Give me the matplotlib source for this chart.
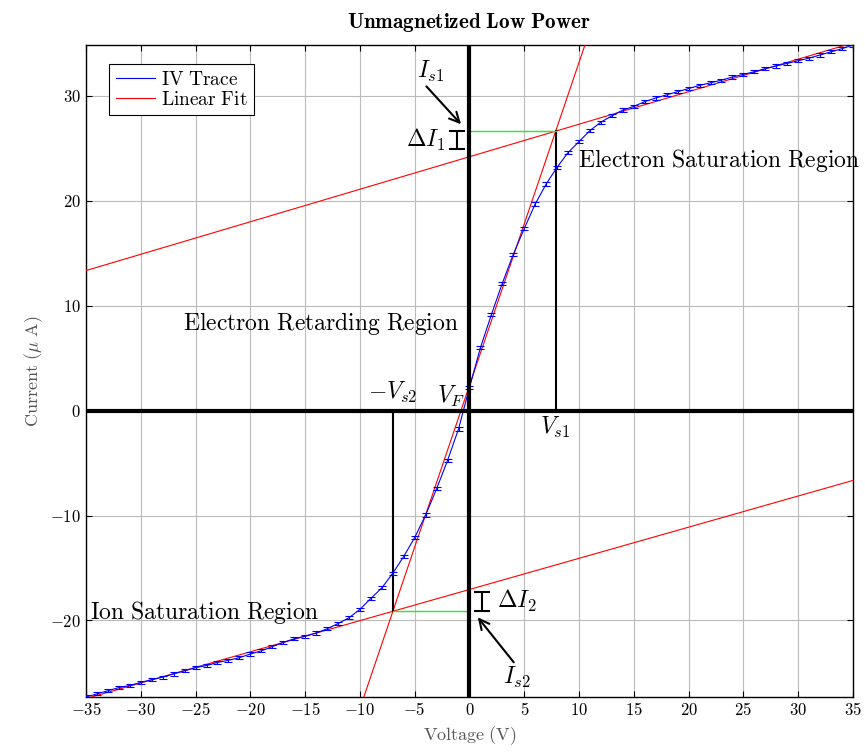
import numpy as np
import matplotlib
matplotlib.use('Agg')
import matplotlib.pyplot as plt
from matplotlib.lines import Line2D

plt.rcParams['mathtext.fontset'] = 'cm'
plt.rcParams['font.family'] = 'serif'

# measured IV trace
voltage = list(range(-35, 36))
current = [-27.3, -27.0, -26.7, -26.4, -26.2, -25.9, -25.65, -25.4, -25.1, -24.8,
           -24.5, -24.3, -24.0, -23.8, -23.55, -23.2, -22.9, -22.5, -22.1, -21.75,
           -21.5, -21.2, -20.8, -20.3, -19.75, -18.95, -17.9, -16.9, -15.5, -13.9,
           -12.1, -9.95, -7.45, -4.75, -1.75, 2.2, 6.0, 9.15, 12.15, 14.9,
           17.35, 19.7, 21.6, 23.2, 24.6, 25.65, 26.7, 27.5, 28.1, 28.65,
           29.0, 29.45, 29.8, 30.1, 30.4, 30.7, 31.0, 31.25, 31.5, 31.8,
           32.05, 32.3, 32.6, 32.85, 33.1, 33.35, 33.6, 33.9, 34.2, 34.5, 34.85]
current_err = 0.15

# linear fits (slope, intercept)
fit_esat = (0.31, 24.2)
fit_retard = (3.08, 2.4)
fit_isat = (0.297, -17.05)

xticks = [-35, -30, -25, -20, -15, -10, -5, 0, 5, 10, 15, 20, 25, 30, 35]
yticks = [-20, -10, 0, 10, 20, 30]

def cross(a, b):
    x = (b[1] - a[1]) / (a[0] - b[0])
    return x, a[0] * x + a[1]

vs1, is1 = cross(fit_esat, fit_retard)
vs2, is2 = cross(fit_isat, fit_retard)

fig = plt.figure(figsize=(8.65, 7.55), dpi=100)
ax = fig.add_axes([0.0994, 0.0768, 0.8867, 0.8636])

xmin, xmax = voltage[0], voltage[-1]
ymin, ymax = current[0], current[-1]

# thick zero axes
ax.axhline(0, color='black', lw=3, zorder=4.5)
ax.axvline(0, color='black', lw=3, zorder=4.5)

# fit lines
xs = np.array([xmin, xmax])
for f in [fit_esat, fit_retard, fit_isat]:
    ax.plot(xs, f[0] * xs + f[1], color='red', lw=0.8, zorder=3)

# trace
ax.errorbar(voltage, current, yerr=current_err, color='blue', lw=0.8,
            elinewidth=0.8, capsize=3, capthick=0.8, zorder=4)

# construction lines
ax.plot([vs1, vs1], [0, is1], color='black', lw=1.5, zorder=3)
ax.plot([vs2, vs2], [0, is2], color='black', lw=1.5, zorder=3)
ax.plot([0, vs1], [is1, is1], color='#22ee22', lw=1.0, zorder=3)
ax.plot([0, vs2], [is2, is2], color='#22ee22', lw=1.0, zorder=3)

# delta I bars
ax.errorbar([-1.15], [(24.9 + is1) / 2], yerr=[(is1 - 24.9) / 2], color='black',
            lw=1.5, capsize=6, capthick=1.5, zorder=5)
ax.errorbar([1.1], [(-17.3 + is2) / 2], yerr=[(-17.3 - is2) / 2], color='black',
            lw=1.5, capsize=6, capthick=1.5, zorder=5)

fs = 17
ax.text(-2.2, 25.8, '$\\Delta I_1$', fontsize=fs, ha='right', va='center')
ax.text(2.5, -18.1, '$\\Delta I_2$', fontsize=fs, ha='left', va='center')
ax.text(-3.6, 32.3, '$I_{s1}$', fontsize=fs, ha='center', va='center')
ax.text(4.3, -25.4, '$I_{s2}$', fontsize=fs, ha='center', va='center')
ax.text(-7.0, 1.7, '$-V_{s2}$', fontsize=fs, ha='center', va='center')
ax.text(-1.7, 1.3, '$V_F$', fontsize=fs, ha='center', va='center')
ax.text(vs1, -1.6, '$V_{s1}$', fontsize=fs, ha='center', va='center')
ax.annotate('', xy=(-0.6, 27.1), xytext=(-4.1, 31.1),
            arrowprops=dict(arrowstyle='->', lw=1.5, color='black', mutation_scale=18))
ax.annotate('', xy=(0.6, -19.5), xytext=(4.2, -24.2),
            arrowprops=dict(arrowstyle='->', lw=1.5, color='black', mutation_scale=18))

ax.text(-1.0, 8.3, '$\\mathrm{Electron\\ Retarding\\ Region}$', fontsize=fs,
        ha='right', va='center')
ax.text(9.9, 23.8, '$\\mathrm{Electron\\ Saturation\\ Region}$', fontsize=fs,
        ha='left', va='center')
ax.text(-34.6, -19.2, '$\\mathrm{Ion\\ Saturation\\ Region}$', fontsize=fs,
        ha='left', va='center')

ax.set_xlim(xmin, xmax)
ax.set_ylim(ymin, ymax)
ax.set_xticks(xticks, labels=[f'${t}$' for t in xticks])
ax.set_yticks(yticks, labels=[f'${t}$' for t in yticks])
ax.tick_params(direction='in', top=True, right=True, labelsize=12, length=4)
ax.grid(True, color='#bbbbbb', lw=0.8)
ax.set_axisbelow(True)
for s in ax.spines.values():
    s.set_linewidth(1.0)

ax.set_xlabel('$\\mathrm{Voltage\\ (V)}$', fontsize=13, color='#555555')
ax.set_ylabel('$\\mathrm{Current\\ (}\\mu\\mathrm{\\ A)}$', fontsize=13, color='#555555')
ax.set_title('$\\mathbf{Unmagnetized\\ Low\\ Power}$', fontsize=15.2, pad=12)

handles = [Line2D([], [], color='blue', lw=0.8), Line2D([], [], color='red', lw=0.8)]
leg = ax.legend(handles, ['$\\mathrm{IV\\ Trace}$', '$\\mathrm{Linear\\ Fit}$'],
                loc='upper left', bbox_to_anchor=(0.03, 0.971), fontsize=14,
                fancybox=False, framealpha=1, edgecolor='black', handlelength=2.0,
                handletextpad=0.3, borderaxespad=0, labelspacing=0.1,
                borderpad=0.35)
leg.get_frame().set_linewidth(0.8)

fig.savefig('out.png', dpi=100)
